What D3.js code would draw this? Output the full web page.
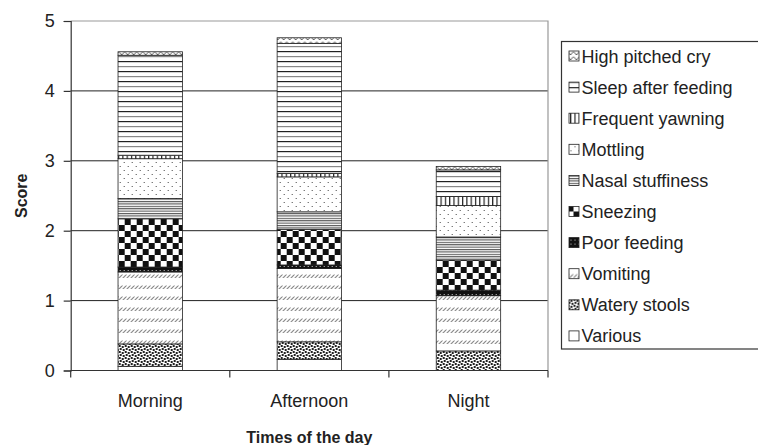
<!DOCTYPE html>
<html>
<head>
<meta charset="utf-8">
<script src="https://cdn.jsdelivr.net/npm/d3@7"></script>
<style>
  body { margin: 0; background: #fff; }
  text { font-family: Arial, "Liberation Sans", sans-serif; fill: #222; }
</style>
</head>
<body>
<div id="chart"></div>
<script>
// categories and series (bottom to top of each bar)
var times = ["Morning", "Afternoon", "Night"];
var symptoms = ["Various", "Watery stools", "Vomiting", "Poor feeding", "Sneezing",
                "Nasal stuffiness", "Mottling", "Frequent yawning", "Sleep after feeding", "High pitched cry"];

// score per symptom, one array per time of day
var morning   = [0.06, 0.32, 1.03, 0.07, 0.69, 0.29, 0.57, 0.05, 1.43, 0.05];
var afternoon = [0.16, 0.25, 1.05, 0.05, 0.51, 0.25, 0.50, 0.05, 1.86, 0.08];
var night     = [0.00, 0.28, 0.79, 0.08, 0.43, 0.33, 0.45, 0.13, 0.38, 0.05];

var yTicks = [0, 1, 2, 3, 4, 5];

// build rows for d3.stack
var rows = [morning, afternoon, night].map(function(vals, i) {
  var r = {time: times[i]};
  symptoms.forEach(function(s, j) { r[s] = vals[j]; });
  return r;
});

var W = 758, H = 445;
var margin = {top: 21, right: 210, bottom: 74.5, left: 70.7};
var width = W - margin.left - margin.right,
    height = H - margin.top - margin.bottom;

var svg = d3.select("#chart").append("svg")
  .attr("width", W).attr("height", H);

// fill patterns
var defs = svg.append("defs");
function pat(id, w, h) {
  var p = defs.append("pattern").attr("id", id)
    .attr("patternUnits", "userSpaceOnUse").attr("width", w).attr("height", h);
  p.append("rect").attr("width", w).attr("height", h).attr("fill", "#fff");
  return p;
}
var p;
p = pat("p-cry", 6, 5);
p.append("path").attr("d", "M0,0.5 L3,4 L6,0.5").attr("stroke", "#333").attr("fill", "none").attr("stroke-width", 0.8);

p = pat("p-sleep", 8, 10);
p.append("rect").attr("y", 0).attr("width", 8).attr("height", 1.2).attr("fill", "#222");
p.append("rect").attr("y", 5).attr("width", 8).attr("height", 1.2).attr("fill", "#888");

p = pat("p-yawn", 4.3, 4);
p.append("rect").attr("x", 0).attr("width", 1.2).attr("height", 4).attr("fill", "#222");

p = pat("p-mott", 8, 8);
p.append("rect").attr("x", 1).attr("y", 1).attr("width", 1).attr("height", 1).attr("fill", "#444");
p.append("rect").attr("x", 5).attr("y", 5).attr("width", 1).attr("height", 1).attr("fill", "#444");

p = pat("p-nasal", 4, 2.4);
p.append("rect").attr("y", 0).attr("width", 4).attr("height", 1.1).attr("fill", "#555");

p = pat("p-sneeze", 12, 12);
p.append("rect").attr("width", 6).attr("height", 6).attr("fill", "#111");
p.append("rect").attr("x", 6).attr("y", 6).attr("width", 6).attr("height", 6).attr("fill", "#111");

p = pat("p-poor", 4, 4);
p.select("rect").attr("fill", "#111");
p.append("rect").attr("x", 1).attr("y", 1).attr("width", 1).attr("height", 1).attr("fill", "#ccc");

p = pat("p-vomit", 4, 11);
p.append("path").attr("d", "M0.3,4 L3.7,0.5").attr("stroke", "#444").attr("stroke-width", 1);

p = pat("p-watery", 6, 6);
[[0,0],[3,1],[1,3],[4,4]].forEach(function(d) {
  p.append("rect").attr("x", d[0]).attr("y", d[1]).attr("width", 2).attr("height", 2).attr("fill", "#222");
});

var fills = ["#fff", "url(#p-watery)", "url(#p-vomit)", "url(#p-poor)", "url(#p-sneeze)",
             "url(#p-nasal)", "url(#p-mott)", "url(#p-yawn)", "url(#p-sleep)", "url(#p-cry)"];
var color = d3.scaleOrdinal().domain(symptoms).range(fills);

var g = svg.append("g")
  .attr("transform", "translate(" + margin.left + "," + margin.top + ")");

// scales
var x = d3.scaleBand().domain(times).range([0, width])
  .paddingInner(0.595).paddingOuter(0.2975);
var y = d3.scaleLinear().domain([0, 5]).range([height, 0]);

// gridlines
g.selectAll(".grid").data(yTicks.filter(function(d) { return d > 0 && d < 5; }))
  .enter().append("line")
    .attr("x1", 0).attr("x2", width)
    .attr("y1", function(d) { return y(d); }).attr("y2", function(d) { return y(d); })
    .attr("stroke", "#222").attr("stroke-width", 1);

// plot area border top / right
g.append("path")
  .attr("d", "M0," + y(5) + "H" + width + "V" + height)
  .attr("fill", "none").attr("stroke", "#999").attr("stroke-width", 1.2);

// stacked bars
var stack = d3.stack().keys(symptoms)(rows);
g.selectAll(".layer").data(stack).enter().append("g")
    .attr("fill", function(d) { return color(d.key); })
  .selectAll("rect").data(function(d) { return d; }).enter().append("rect")
    .attr("x", function(d) { return x(d.data.time); })
    .attr("width", x.bandwidth())
    .attr("y", function(d) { return y(d[1]); })
    .attr("height", function(d) { return y(d[0]) - y(d[1]); })
    .attr("stroke", "#222").attr("stroke-width", 0.8);

// y axis
var yAxis = g.append("g")
  .call(d3.axisLeft(y).tickValues(yTicks).tickFormat(d3.format("d")).tickSize(7).tickPadding(9));
yAxis.select(".domain").attr("stroke", "#333").attr("stroke-width", 1.2);
yAxis.selectAll(".tick line").attr("stroke", "#333").attr("stroke-width", 1.2);
yAxis.selectAll("text").style("font-size", "18px").attr("fill", "#222");

// x axis
var xg = g.append("g").attr("transform", "translate(0," + height + ")");
xg.append("line").attr("x1", 0).attr("x2", width).attr("stroke", "#333").attr("stroke-width", 1.2);
xg.selectAll(".xtick").data(d3.range(times.length + 1)).enter().append("line")
  .attr("x1", function(i) { return i * x.step(); }).attr("x2", function(i) { return i * x.step(); })
  .attr("y1", 0).attr("y2", 7).attr("stroke", "#333").attr("stroke-width", 1.2);
xg.selectAll(".xlab").data(times).enter().append("text")
  .attr("x", function(d) { return x(d) + x.bandwidth() / 2; })
  .attr("y", 36).attr("text-anchor", "middle")
  .style("font-size", "18px").text(function(d) { return d; });

// axis titles
svg.append("text")
  .attr("x", margin.left + width / 2).attr("y", 443)
  .attr("text-anchor", "middle").style("font-size", "16px").style("font-weight", "bold")
  .text("Times of the day");
svg.append("text")
  .attr("transform", "translate(27," + (margin.top + height / 2) + ") rotate(-90)")
  .attr("text-anchor", "middle").style("font-size", "16px").style("font-weight", "bold")
  .text("Score");

// legend
var lg = svg.append("g").attr("transform", "translate(561.5,41.5)");
lg.append("rect").attr("width", 220).attr("height", 307.5)
  .attr("fill", "#fff").attr("stroke", "#333").attr("stroke-width", 1.2);
var items = lg.selectAll(".item").data(symptoms.slice().reverse()).enter().append("g")
  .attr("transform", function(d, i) { return "translate(0," + (14.5 + i * 31.1) + ")"; });
items.append("rect").attr("x", 7.5).attr("y", -5).attr("width", 10).attr("height", 10)
  .attr("fill", function(d) { return color(d); }).attr("stroke", "#222").attr("stroke-width", 0.8);
items.append("text").attr("x", 20).attr("y", 6.5).style("font-size", "18px")
  .text(function(d) { return d; });
</script>
</body>
</html>
